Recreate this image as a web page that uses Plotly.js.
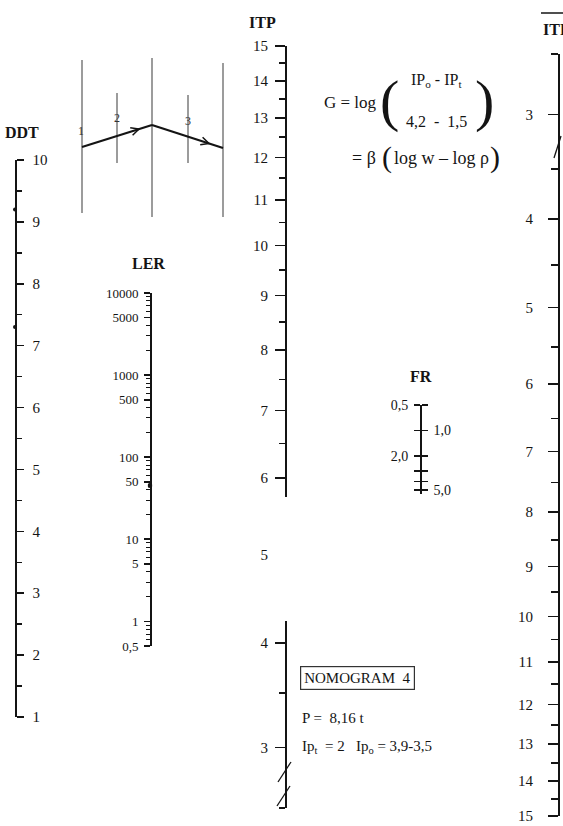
<!DOCTYPE html>
<html><head><meta charset="utf-8">
<script src="https://cdn.plot.ly/plotly-3.0.1.min.js"></script>
<style>html,body{margin:0;padding:0;background:#fff}#chart{width:563px;height:826px}</style>
</head><body><div id="chart"></div>
<script>
// ---------- data (scale values and tick labels) ----------
const ddtTicks = [1,2,3,4,5,6,7,8,9,10];
const ddtMinor = [1.5,2.5,3.5,4.5,5.5,6.5,7.5,8.5,9.5];
const ddtPoints = [9.2, 7.3];

const lerTicks = [0.5,1,5,10,50,100,500,1000,5000,10000];
const lerTickText = ['0,5','1','5','10','50','100','500','1000','5000','10000'];
const lerDecades = [0.1,1,10,100,1000];
const lerDigits = [2,3,4,5,6,7,8,9];
const lerPoints = [45];

const itpTicks = [3,4,5,6,7,8,9,10,11,12,13,14,15];
const itpMinor = [2.5,3.5,4.5,5.5,6.5,7.5,8.5,9.5,10.5,11.5,12.5,13.5,14.5];
const itpShift = 2;            // scale is log(ITP + 2)

const frLeftVals  = [0.5, 2.0];
const frLeftText  = ['0,5','2,0'];
const frRightVals = [1.0, 5.0];
const frRightText = ['1,0','5,0'];
const frOtherMarks = [3, 4];

// ---------- page geometry ----------
const W = 563, H = 826;
const INK = '#141414';
const SERIF = '"Liberation Serif", "Times New Roman", serif';
const py = p => 1 - p / H;
const px = p => p / W;

function scaleAxis(o){
  return Object.assign({
    anchor:'free', showgrid:false, zeroline:false, showline:true,
    linecolor:INK, linewidth:1.6, ticks:'outside', tickcolor:INK,
    tickwidth:1.5, ticklen:8, tickfont:{family:SERIF, size:15, color:INK},
    fixedrange:true, automargin:false, autorange:false
  }, o);
}
function hiddenX(xpix, yname){
  return {domain:[px(xpix)-0.004, px(xpix)+0.004], range:[-1,1], visible:false,
          anchor:yname, fixedrange:true};
}

const lerMinorVals = [];
lerDecades.forEach(d => lerDigits.forEach(k => {
  const v = k*d; if (v > 0.5 && v < 10000) lerMinorVals.push(v);
}));

const frRange = [Math.log10(5.6), Math.log10(0.5)];   // 0,5 at top
const frMinor = t => ({tickmode:'array', tickvals:t, ticks:'outside', ticklen:6, tickcolor:INK, tickwidth:1.5});

const layout = {
  width:W, height:H, margin:{l:0,r:0,t:0,b:0},
  paper_bgcolor:'#fff', plot_bgcolor:'rgba(0,0,0,0)', showlegend:false,
  xaxis:{domain:[0,1], range:[0,W], visible:false, fixedrange:true},
  yaxis:{domain:[0,1], range:[H,0], visible:false, fixedrange:true},

  // DDT
  xaxis2: hiddenX(15,'y2'),
  yaxis2: scaleAxis({domain:[py(717), py(160)], range:[1,10], position:px(15),
     side:'right', tickmode:'array', tickvals:ddtTicks, ticktext:ddtTicks.map(String),
     ticklen:7, ticklabelstandoff:6,
     minor:{tickmode:'array', tickvals:ddtMinor, ticks:'outside', ticklen:5, tickcolor:INK, tickwidth:1.5}}),

  // LER
  xaxis3: hiddenX(150,'y3'),
  yaxis3: scaleAxis({type:'log', domain:[py(646), py(293)], range:[Math.log10(0.5), 4], position:px(150),
     side:'left', tickmode:'array', tickvals:lerTicks, ticktext:lerTickText, ticklen:6,
     tickfont:{family:SERIF, size:13, color:INK}, ticklabelstandoff:3,
     minor:{tickmode:'array', tickvals:lerMinorVals, ticks:'outside', ticklen:4, tickcolor:INK, tickwidth:1}}),

  // ITP middle
  xaxis4: hiddenX(285,'y4'),
  yaxis4: scaleAxis({type:'log', domain:[py(808), py(46)],
     range:[Math.log10(2.5+itpShift), Math.log10(15+itpShift)], position:px(285),
     side:'left', tickmode:'array', tickvals:itpTicks.map(v=>v+itpShift), ticktext:itpTicks.map(String),
     ticklen:10, ticklabelstandoff:4,
     minor:{tickmode:'array', tickvals:itpMinor.map(v=>v+itpShift), ticks:'outside', ticklen:6, tickcolor:INK, tickwidth:1.5}}),

  // ITP right (reversed)
  xaxis5: hiddenX(558,'y5'),
  yaxis5: scaleAxis({type:'log', domain:[py(816), py(54)],
     range:[Math.log10(15+itpShift), Math.log10(2.5+itpShift)], position:px(558),
     side:'left', tickmode:'array', tickvals:itpTicks.map(v=>v+itpShift), ticktext:itpTicks.map(String),
     ticklen:10, ticklabelstandoff:12,
     minor:{tickmode:'array', tickvals:itpMinor.map(v=>v+itpShift), ticks:'outside', ticklen:7, tickcolor:INK, tickwidth:1.5}}),

  // FR (two faces, 0,5 at top)
  xaxis6: hiddenX(420,'y6'),
  yaxis6: scaleAxis({type:'log', domain:[py(494), py(405)], range:frRange,
     position:px(420), side:'left', tickmode:'array', tickvals:frLeftVals, ticktext:frLeftText,
     ticklen:6, tickfont:{family:SERIF, size:14, color:INK}, ticklabelstandoff:3,
     minor:frMinor(frRightVals.concat(frOtherMarks))}),
  xaxis7: hiddenX(420,'y7'),
  yaxis7: scaleAxis({type:'log', domain:[py(494), py(405)], range:frRange,
     position:px(420), side:'right', tickmode:'array', tickvals:frRightVals, ticktext:frRightText,
     ticklen:6, tickfont:{family:SERIF, size:14, color:INK}, ticklabelstandoff:3,
     minor:frMinor(frLeftVals.concat(frOtherMarks))}),

  shapes:[], annotations:[]
};

// ---------- sketch at top-left (illustration) ----------
const thin = {color:'#5a5a5a', width:1.2};
const sketchVertical = [[82,60,213],[152,58,217],[223,63,217],[117,93,163],[188,95,163]];
sketchVertical.forEach(s => layout.shapes.push({type:'line', xref:'x', yref:'y', x0:s[0], x1:s[0], y0:s[1], y1:s[2], line:thin}));
const sketchPath = [[82,147],[152,125],[223,148]];
for (let i=0;i<sketchPath.length-1;i++){
  layout.shapes.push({type:'line', xref:'x', yref:'y', x0:sketchPath[i][0], y0:sketchPath[i][1],
     x1:sketchPath[i+1][0], y1:sketchPath[i+1][1], line:{color:INK, width:2.2}});
}
// arrow heads on the path
['M 132.6 135.3 L 139 129.1 L 130.2 127.7', 'M 200.2 144.8 L 209 143.5 L 202.6 137.2'].forEach(p =>
  layout.shapes.push({type:'path', xref:'x', yref:'y', path:p, line:{color:INK, width:1.5}}));

// white patch (blank in the scan)
layout.shapes.push({type:'rect', xref:'x', yref:'y', x0:271, x1:490, y0:497, y1:621,
   fillcolor:'#fff', line:{width:0}, layer:'above'});
// pencil marks
const marks = [[278,782,291,762],[277,806,290,786],[554,158,561,136]];
marks.forEach(m => layout.shapes.push({type:'line', xref:'x', yref:'y', x0:m[0], y0:m[1], x1:m[2], y1:m[3],
   line:{color:INK, width:1.3}, layer:'above'}));
// overline of right ITP title
layout.shapes.push({type:'line', xref:'x', yref:'y', x0:541, x1:563, y0:13, y1:13, line:{color:INK, width:1.5}});

function txt(x,y,text,o){
  layout.annotations.push(Object.assign({xref:'x', yref:'y', x:x, y:y, text:text, showarrow:false,
    font:{family:SERIF, size:15, color:INK}, xanchor:'center', yanchor:'middle'}, o||{}));
}
const small = {family:SERIF, size:12, color:'#333'};
txt(81,131,'1',{font:small});
txt(117,118,'2',{font:small});
txt(188,121,'3',{font:small});

// scale titles
const bold = {family:SERIF, size:16, color:INK, weight:'bold'};
txt(22,132,'<b>DDT</b>',{font:bold});
txt(148,263,'<b>LER</b>',{font:bold});
txt(262,22,'<b>ITP</b>',{font:bold});
txt(541,29,'<b>ITP</b>',{font:bold, xanchor:'left'});
txt(421,376,'<b>FR</b>',{font:bold});

// formula
txt(379,102,'G = log',{font:{family:SERIF,size:17,color:INK}, xanchor:'right'});
txt(389,100,'(',{font:{family:SERIF,size:58,color:INK}});
txt(436,80,'IP<sub>o</sub> - IP<sub>t</sub>',{font:{family:SERIF,size:16,color:INK}});
txt(436,121,'4,2  -  1,5',{font:{family:SERIF,size:16,color:INK}});
txt(484,100,')',{font:{family:SERIF,size:58,color:INK}});
txt(378,158,'= β',{font:{family:SERIF,size:18,color:INK}, xanchor:'right'});
txt(387,157,'(',{font:{family:SERIF,size:30,color:INK}});
txt(441,158,'log w – log ρ',{font:{family:SERIF,size:18,color:INK}});
txt(495,157,')',{font:{family:SERIF,size:30,color:INK}});

// nomogram box and notes
txt(357,678,'NOMOGRAM  4',{font:{family:SERIF,size:15,color:INK}, bordercolor:'#333', borderwidth:1.2, borderpad:3});
txt(300,718,'P =  8,16 t',{font:{family:SERIF,size:15,color:INK}, xanchor:'left'});
txt(300,747,'Ip<sub>t</sub>  = 2   Ip<sub>o</sub> = 3,9-3,5',{font:{family:SERIF,size:15,color:INK}, xanchor:'left'});

// ---------- traces ----------
const invisible = {mode:'markers', marker:{opacity:0}, hoverinfo:'skip'};
const traces = [
  Object.assign({x:[0], y:[0], xaxis:'x', yaxis:'y'}, invisible),
  {x:ddtPoints.map(()=>0), y:ddtPoints, xaxis:'x2', yaxis:'y2', mode:'markers', marker:{size:4, color:INK}, hoverinfo:'skip'},
  {x:lerPoints.map(()=>0), y:lerPoints, xaxis:'x3', yaxis:'y3', mode:'markers', marker:{size:5, color:INK}, hoverinfo:'skip'},
  Object.assign({x:[0], y:[10+itpShift], xaxis:'x4', yaxis:'y4'}, invisible),
  Object.assign({x:[0], y:[10+itpShift], xaxis:'x5', yaxis:'y5'}, invisible),
  Object.assign({x:[0], y:[1], xaxis:'x6', yaxis:'y6'}, invisible),
  Object.assign({x:[0], y:[1], xaxis:'x7', yaxis:'y7'}, invisible)
];

Plotly.newPlot('chart', traces, layout, {staticPlot:true, displayModeBar:false});
</script>
</body></html>
